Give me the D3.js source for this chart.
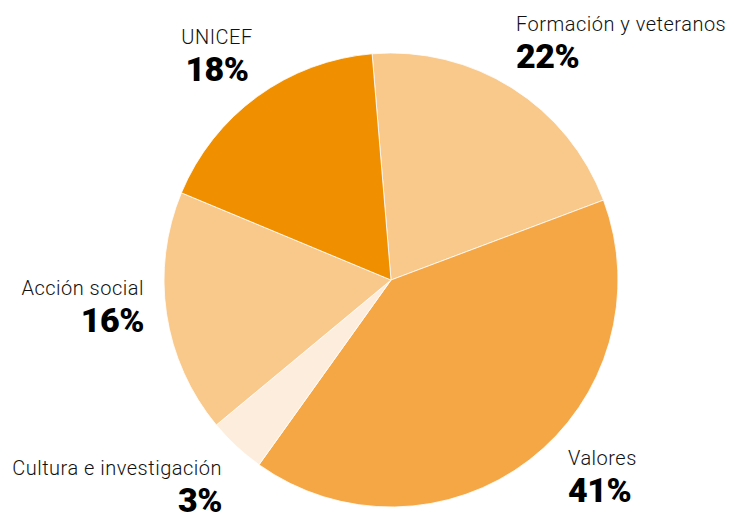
<!DOCTYPE html>
<html>
<head>
<meta charset="utf-8">
<script src="https://cdn.jsdelivr.net/npm/d3@7/dist/d3.min.js"></script>
<style>
  html, body { margin: 0; padding: 0; background: #fff; }
  svg { display: block; }
  .lab { font-family: Roboto, "Noto Sans", sans-serif; font-weight: 300; font-size: 20px; letter-spacing: 0.5px; fill: #111; }
  .pct { font-family: Roboto, "Noto Sans", sans-serif; font-weight: 900; font-size: 34px; letter-spacing: -0.5px; fill: #000; }
</style>
</head>
<body>
<svg id="chart" width="732" height="513"></svg>
<script>
// Data (clockwise from just left of 12 o'clock)
const categories = ["Formación y veteranos", "Valores", "Cultura e investigación", "Acción social", "UNICEF"];
const values = [20.6, 40.6, 4.1, 17.3, 17.4];         // slice sizes
const pctLabels = ["22%", "41%", "3%", "16%", "18%"];  // printed labels
const colors = ["#F9C88B", "#F5A745", "#FDEDDD", "#F9C88B", "#F08F00"];

// Layout for labels: [x, y of name baseline, anchor]
const labelLayout = [
  [516, 31, "start"],
  [568, 465, "start"],
  [222, 475, "end"],
  [144, 295, "end"],
  [217, 44, "middle"]
];

const svg = d3.select("#chart");
const cx = 391, cy = 280, R = 227;
const start = -4.77 * Math.PI / 180;

const pie = d3.pie().sort(null).value(d => d.v)
  .startAngle(start).endAngle(start + 2 * Math.PI);
const arc = d3.arc().innerRadius(0).outerRadius(R);

const data = categories.map((c, i) => ({ c, v: values[i], p: pctLabels[i], col: colors[i], lay: labelLayout[i] }));

const g = svg.append("g").attr("transform", `translate(${cx},${cy})`);
g.selectAll("path").data(pie(data)).join("path")
  .attr("d", arc)
  .attr("fill", d => d.data.col)
  .attr("stroke", "#fff")
  .attr("stroke-width", 0.8)
  .attr("stroke-linejoin", "round");

const lg = svg.append("g");
data.forEach(d => {
  const [x, y, anchor] = d.lay;
  lg.append("text").attr("class", "lab").attr("x", x).attr("y", y)
    .attr("text-anchor", anchor).text(d.c);
  lg.append("text").attr("class", "pct").attr("x", x).attr("y", y + 37)
    .attr("text-anchor", anchor).text(d.p);
});
</script>
</body>
</html>
